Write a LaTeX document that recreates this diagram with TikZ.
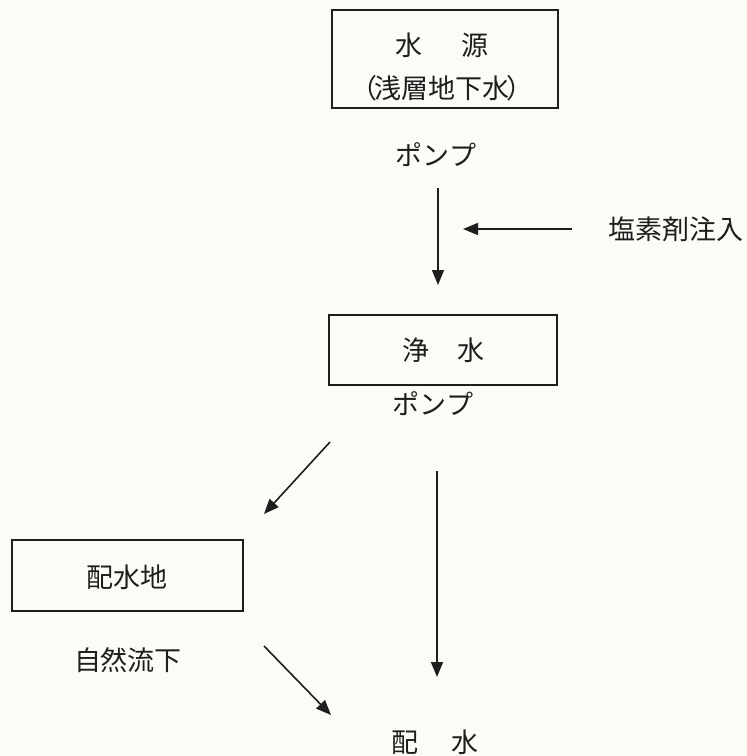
\documentclass[tikz,border=0pt]{standalone}
\usepackage{fontspec}
\newfontfamily\jp{Noto Sans CJK JP}
\usetikzlibrary{arrows.meta}
\definecolor{paper}{RGB}{252,252,247}
\definecolor{ink}{RGB}{30,30,30}
\tikzset{
  box/.style={draw=ink, line width=1.8pt, inner sep=0pt},
  lbl/.style={font=\jp\fontsize{27}{31}\selectfont, text=ink, inner sep=0pt},
  flow/.style={draw=ink, line width=1.6pt, -{Triangle[length=15pt,width=12pt]}}
}
\begin{document}
\begin{tikzpicture}[x=1pt,y=-1pt]
\fill[paper] (0,0) rectangle (747,756);
\useasboundingbox (0,0) rectangle (747,756);
% boxes
\node[box, minimum width=226pt, minimum height=98pt] (src) at (445,59) {};
\node[lbl] (srcA) at (442,45) {水\hspace{40pt}源};
\node[lbl] (srcB) at (442,88) {（\hspace{-3pt}浅層地下水\hspace{-3pt}）};
\node[lbl] (pump1) at (436,155) {ポンプ};
\node[box, minimum width=228pt, minimum height=70pt] (clean) at (443,350) {};
\node[lbl] (cleanT) at (443,350) {浄\hspace{28pt}水};
\node[lbl] (pump2) at (433,404) {ポンプ};
\node[box, minimum width=231pt, minimum height=71pt] (res) at (127.5,575.5) {};
\node[lbl] (resT) at (127,577) {配水地};
\node[lbl] (grav) at (128,660) {自然流下};
\node[lbl] (chl) at (676,229) {塩素剤注入};
\node[lbl] (out) at (435,742) {配\hspace{33pt}水};
% arrow end points
\coordinate (a1s) at (438,188);
\coordinate (a1e) at (438,285);
\coordinate (a2s) at (572,229);
\coordinate (a2e) at (463,229);
\coordinate (a3s) at (330,442);
\coordinate (a3e) at (264,514);
\coordinate (a4s) at (264,646);
\coordinate (a4e) at (331,715);
\coordinate (a5s) at (437,471);
\coordinate (a5e) at (437,677);
\draw[flow] (a1s) -- (a1e);
\draw[flow] (a2s) -- (a2e);
\draw[flow] (a3s) -- (a3e);
\draw[flow] (a4s) -- (a4e);
\draw[flow] (a5s) -- (a5e);
\end{tikzpicture}
\end{document}
